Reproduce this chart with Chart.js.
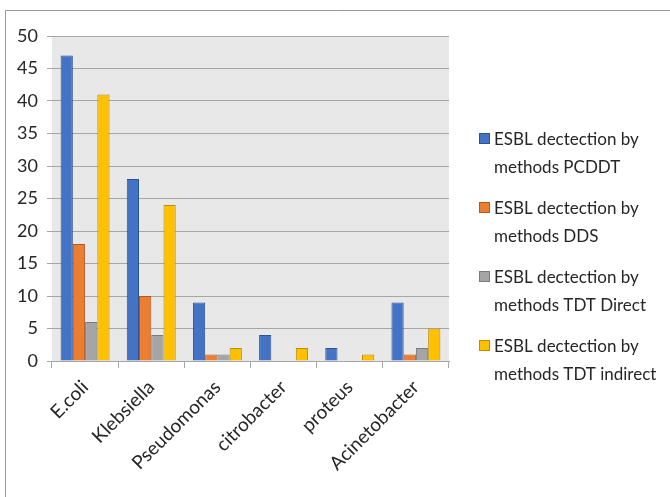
<!DOCTYPE html>
<html>
<head>
<meta charset="utf-8">
<script src="https://cdn.jsdelivr.net/npm/chart.js@4/dist/chart.umd.min.js"></script>
<style>
  html, body { margin: 0; padding: 0; background: #ffffff; }
  #wrap { position: relative; width: 670px; height: 497px; }
</style>
</head>
<body>
<div id="wrap"><canvas id="chart" width="670" height="497"></canvas></div>
<script>
// Organisms tested
const categories = ['E.coli', 'Klebsiella', 'Pseudomonas', 'citrobacter', 'proteus', 'Acinetobacter'];

// Series names
const seriesNames = [
  'ESBL dectection by methods PCDDT',
  'ESBL dectection by methods DDS',
  'ESBL dectection by methods TDT Direct',
  'ESBL dectection by methods TDT indirect'
];

// ESBL positives per method
const pcddt       = [47, 28, 9, 4, 2, 9];
const dds         = [18, 10, 1, 0, 0, 1];
const tdtDirect   = [6, 4, 1, 0, 0, 2];
const tdtIndirect = [41, 24, 2, 2, 1, 5];

// Value axis ticks
const yTicks = [0, 5, 10, 15, 20, 25, 30, 35, 40, 45, 50];

const fills   = ['#4472C4', '#ED7D31', '#A5A5A5', '#FFC000'];
const borders = ['#2F528F', '#AE5A21', '#7B7B7B', '#BC8C00'];
const seriesValues = [pcddt, dds, tdtDirect, tdtIndirect];

const FONT = 'Lato, "Open Sans", sans-serif';

// Grey plot area plus the frame lines around the whole figure
const backdrop = {
  id: 'backdrop',
  beforeDraw(chart) {
    const { ctx, chartArea: a } = chart;
    ctx.save();
    ctx.fillStyle = '#e8e8e8';
    ctx.fillRect(a.left, a.top, a.right - a.left, a.bottom - a.top);
    ctx.strokeStyle = '#9a9a9a';
    ctx.lineWidth = 1;
    ctx.beginPath();
    ctx.moveTo(5.5, chart.height);
    ctx.lineTo(5.5, 10.5);
    ctx.lineTo(chart.width, 10.5);
    ctx.stroke();
    ctx.restore();
  }
};

// Legend to the right of the plot, two lines per entry (break after "by")
const sideLegend = {
  id: 'sideLegend',
  afterDraw(chart) {
    const { ctx } = chart;
    const x0 = 479, textX = 494;
    const firstY = 140, entryGap = 69, lineGap = 28;
    ctx.save();
    ctx.font = '17px ' + FONT;
    ctx.textBaseline = 'middle';
    ctx.textAlign = 'left';
    chart.data.datasets.forEach((ds, i) => {
      const cut = ds.label.indexOf(' by ') + 3;
      const lines = [ds.label.slice(0, cut), ds.label.slice(cut + 1)];
      const y = firstY + i * entryGap;
      ctx.fillStyle = ds.backgroundColor;
      ctx.fillRect(x0, y - 7, 11, 11);
      ctx.strokeStyle = ds.borderColor;
      ctx.lineWidth = 1;
      ctx.strokeRect(x0 + 0.5, y - 6.5, 10, 10);
      ctx.fillStyle = '#262626';
      lines.forEach((ln, k) => ctx.fillText(ln, textX, y + k * lineGap));
    });
    ctx.restore();
  }
};

new Chart(document.getElementById('chart'), {
  type: 'bar',
  data: {
    labels: categories,
    datasets: seriesNames.map((name, i) => ({
      label: name,
      data: seriesValues[i],
      backgroundColor: fills[i],
      borderColor: borders[i],
      borderWidth: 1,
      categoryPercentage: 0.74,
      barPercentage: 1.0
    }))
  },
  options: {
    responsive: false,
    animation: false,
    layout: { padding: { top: 36, right: 221, left: 0, bottom: 0 } },
    plugins: {
      legend: { display: false },
      tooltip: { enabled: false }
    },
    scales: {
      x: {
        offset: true,
        grid: {
          offset: true,
          drawOnChartArea: false,
          drawTicks: true,
          tickLength: 7,
          color: '#a6a6a6'
        },
        border: { display: true, color: '#a6a6a6' },
        ticks: {
          minRotation: 45,
          maxRotation: 45,
          padding: 8,
          color: '#262626',
          font: { family: FONT, size: 19 }
        },
        afterFit(s) { s.height = 136; }
      },
      y: {
        min: 0,
        max: 50,
        afterBuildTicks(s) { s.ticks = yTicks.map(v => ({ value: v })); },
        grid: {
          color: '#a6a6a6',
          drawTicks: true,
          tickLength: 5
        },
        border: { display: false },
        ticks: {
          padding: 9,
          color: '#262626',
          font: { family: FONT, size: 18 }
        },
        afterFit(s) { s.width = 52; }
      }
    }
  },
  plugins: [backdrop, sideLegend]
});
</script>
</body>
</html>
